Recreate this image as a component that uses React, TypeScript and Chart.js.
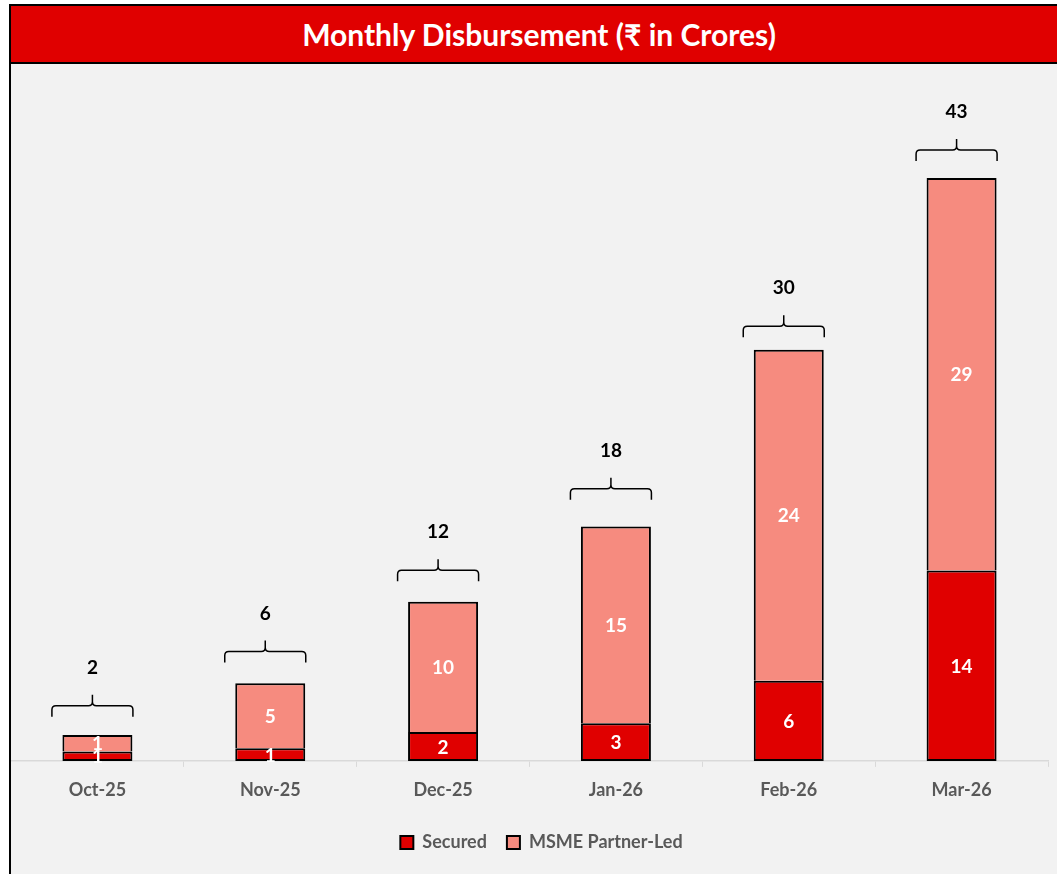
import React, { useEffect, useRef } from "react";
import { Chart, registerables } from "chart.js";

Chart.register(...registerables);

const categories = ["Oct-25", "Nov-25", "Dec-25", "Jan-26", "Feb-26", "Mar-26"];
const securedValues = [0.69, 0.93, 2.13, 2.78, 5.91, 14.05];
const msmeValues = [1.22, 4.79, 9.6, 14.51, 24.41, 28.95];
const securedLabels = [1, 1, 2, 3, 6, 14];
const msmeLabels = [1, 5, 10, 15, 24, 29];
const totalLabels = [2, 6, 12, 18, 30, 43];
const seriesNames = ["Secured", "MSME Partner-Led"];

const FONT = 'Lato, "Noto Sans", sans-serif';
const RED = "#E00000";
const SALMON = "#F68B7F";

function drawBrace(ctx: CanvasRenderingContext2D, cx: number, yTop: number, yMid: number, yBot: number, half: number) {
  const r = 4;
  ctx.beginPath();
  ctx.moveTo(cx - half, yBot);
  ctx.lineTo(cx - half, yMid + r);
  ctx.quadraticCurveTo(cx - half, yMid, cx - half + r, yMid);
  ctx.lineTo(cx - r, yMid);
  ctx.quadraticCurveTo(cx, yMid, cx, yMid - r);
  ctx.lineTo(cx, yTop);
  ctx.moveTo(cx + half, yBot);
  ctx.lineTo(cx + half, yMid + r);
  ctx.quadraticCurveTo(cx + half, yMid, cx + half - r, yMid);
  ctx.lineTo(cx + r, yMid);
  ctx.quadraticCurveTo(cx, yMid, cx, yMid - r);
  ctx.lineWidth = 1.5;
  ctx.strokeStyle = "#000";
  ctx.stroke();
}

const annotPlugin = {
  id: "annot",
  afterLayout(chart: any) {
    const lg = chart.legend;
    if (lg) {
      lg.left += 12;
      lg.right += 12;
    }
  },
  afterDatasetsDraw(chart: any) {
    const ctx: CanvasRenderingContext2D = chart.ctx;
    const yScale = chart.scales.y;
    const metaS = chart.getDatasetMeta(0);
    const metaM = chart.getDatasetMeta(1);
    ctx.save();
    ctx.font = `bold 19px ${FONT}`;
    ctx.textAlign = "center";
    ctx.textBaseline = "middle";
    const groups: [any, number[]][] = [
      [metaS, securedLabels],
      [metaM, msmeLabels],
    ];
    groups.forEach(([meta, labels]) => {
      meta.data.forEach((bar: any, i: number) => {
        const p = bar.getProps(["x", "y", "base"], true);
        ctx.fillStyle = "#FFFFFF";
        ctx.fillText(String(labels[i]), p.x, (p.y + p.base) / 2 + 1);
      });
    });
    metaS.data.forEach((bar: any, i: number) => {
      const cx = bar.x - 5;
      const vy = yScale.getPixelForValue(totalLabels[i]);
      drawBrace(ctx, cx, vy - 39, vy - 28, vy - 17, 40.5);
      ctx.fillStyle = "#000000";
      ctx.fillText(String(totalLabels[i]), cx, vy - 66);
    });
    ctx.restore();
  },
};

export default function App() {
  const canvasRef = useRef<HTMLCanvasElement | null>(null);

  useEffect(() => {
    if (!canvasRef.current) return;
    const chart = new Chart(canvasRef.current, {
      type: "bar",
      data: {
        labels: categories,
        datasets: [
          {
            label: seriesNames[0],
            data: securedValues,
            backgroundColor: RED,
            borderColor: "#000000",
            borderWidth: 2,
            borderSkipped: false,
            barPercentage: 0.405,
            categoryPercentage: 1,
          },
          {
            label: seriesNames[1],
            data: msmeValues,
            backgroundColor: SALMON,
            borderColor: "#000000",
            borderWidth: 2,
            borderSkipped: "start",
            barPercentage: 0.405,
            categoryPercentage: 1,
          },
        ],
      },
      options: {
        animation: false,
        responsive: false,
        maintainAspectRatio: false,
        layout: { padding: { top: 19, left: 0, right: 19, bottom: 12.5 } },
        scales: {
          x: {
            stacked: true,
            grid: {
              display: true,
              drawOnChartArea: false,
              drawTicks: true,
              tickLength: 6,
              color: "#D9D9D9",
              lineWidth: 1,
            },
            border: { display: true, color: "#D9D9D9", width: 1.5 },
            ticks: {
              color: "#595959",
              padding: 12.5,
              font: { family: FONT, size: 18, weight: "bold" },
            },
          },
          y: {
            stacked: true,
            display: false,
            min: 0,
            max: 50,
          },
        },
        plugins: {
          legend: {
            display: true,
            position: "bottom",
            labels: {
              boxWidth: 13,
              boxHeight: 13,
              padding: 20,
              color: "#595959",
              font: { family: FONT, size: 18, weight: "bold" },
            },
          },
          tooltip: { enabled: false },
          title: { display: false },
        },
      },
      plugins: [annotPlugin],
    });
    return () => chart.destroy();
  }, []);

  return (
    <div
      style={{
        position: "absolute",
        left: 0,
        top: 0,
        width: 1057,
        height: 874,
        overflow: "hidden",
        background: "#FFFFFF",
      }}
    >
      <div
        style={{
          position: "absolute",
          left: 9,
          top: 4,
          width: 1056,
          height: 900,
          border: "2px solid #000",
          background: "#F2F2F2",
        }}
      >
        <div
          style={{
            height: 56,
            background: RED,
            borderBottom: "2px solid #000",
            color: "#FFFFFF",
            fontFamily: FONT,
            fontWeight: 700,
            fontSize: 30,
            lineHeight: "56px",
            textAlign: "center",
          }}
        >
          Monthly Disbursement (₹ in Crores)
        </div>
        <canvas
          ref={canvasRef}
          width={1056}
          height={810}
          style={{ display: "block", width: 1056, height: 810 }}
        />
      </div>
    </div>
  );
}
